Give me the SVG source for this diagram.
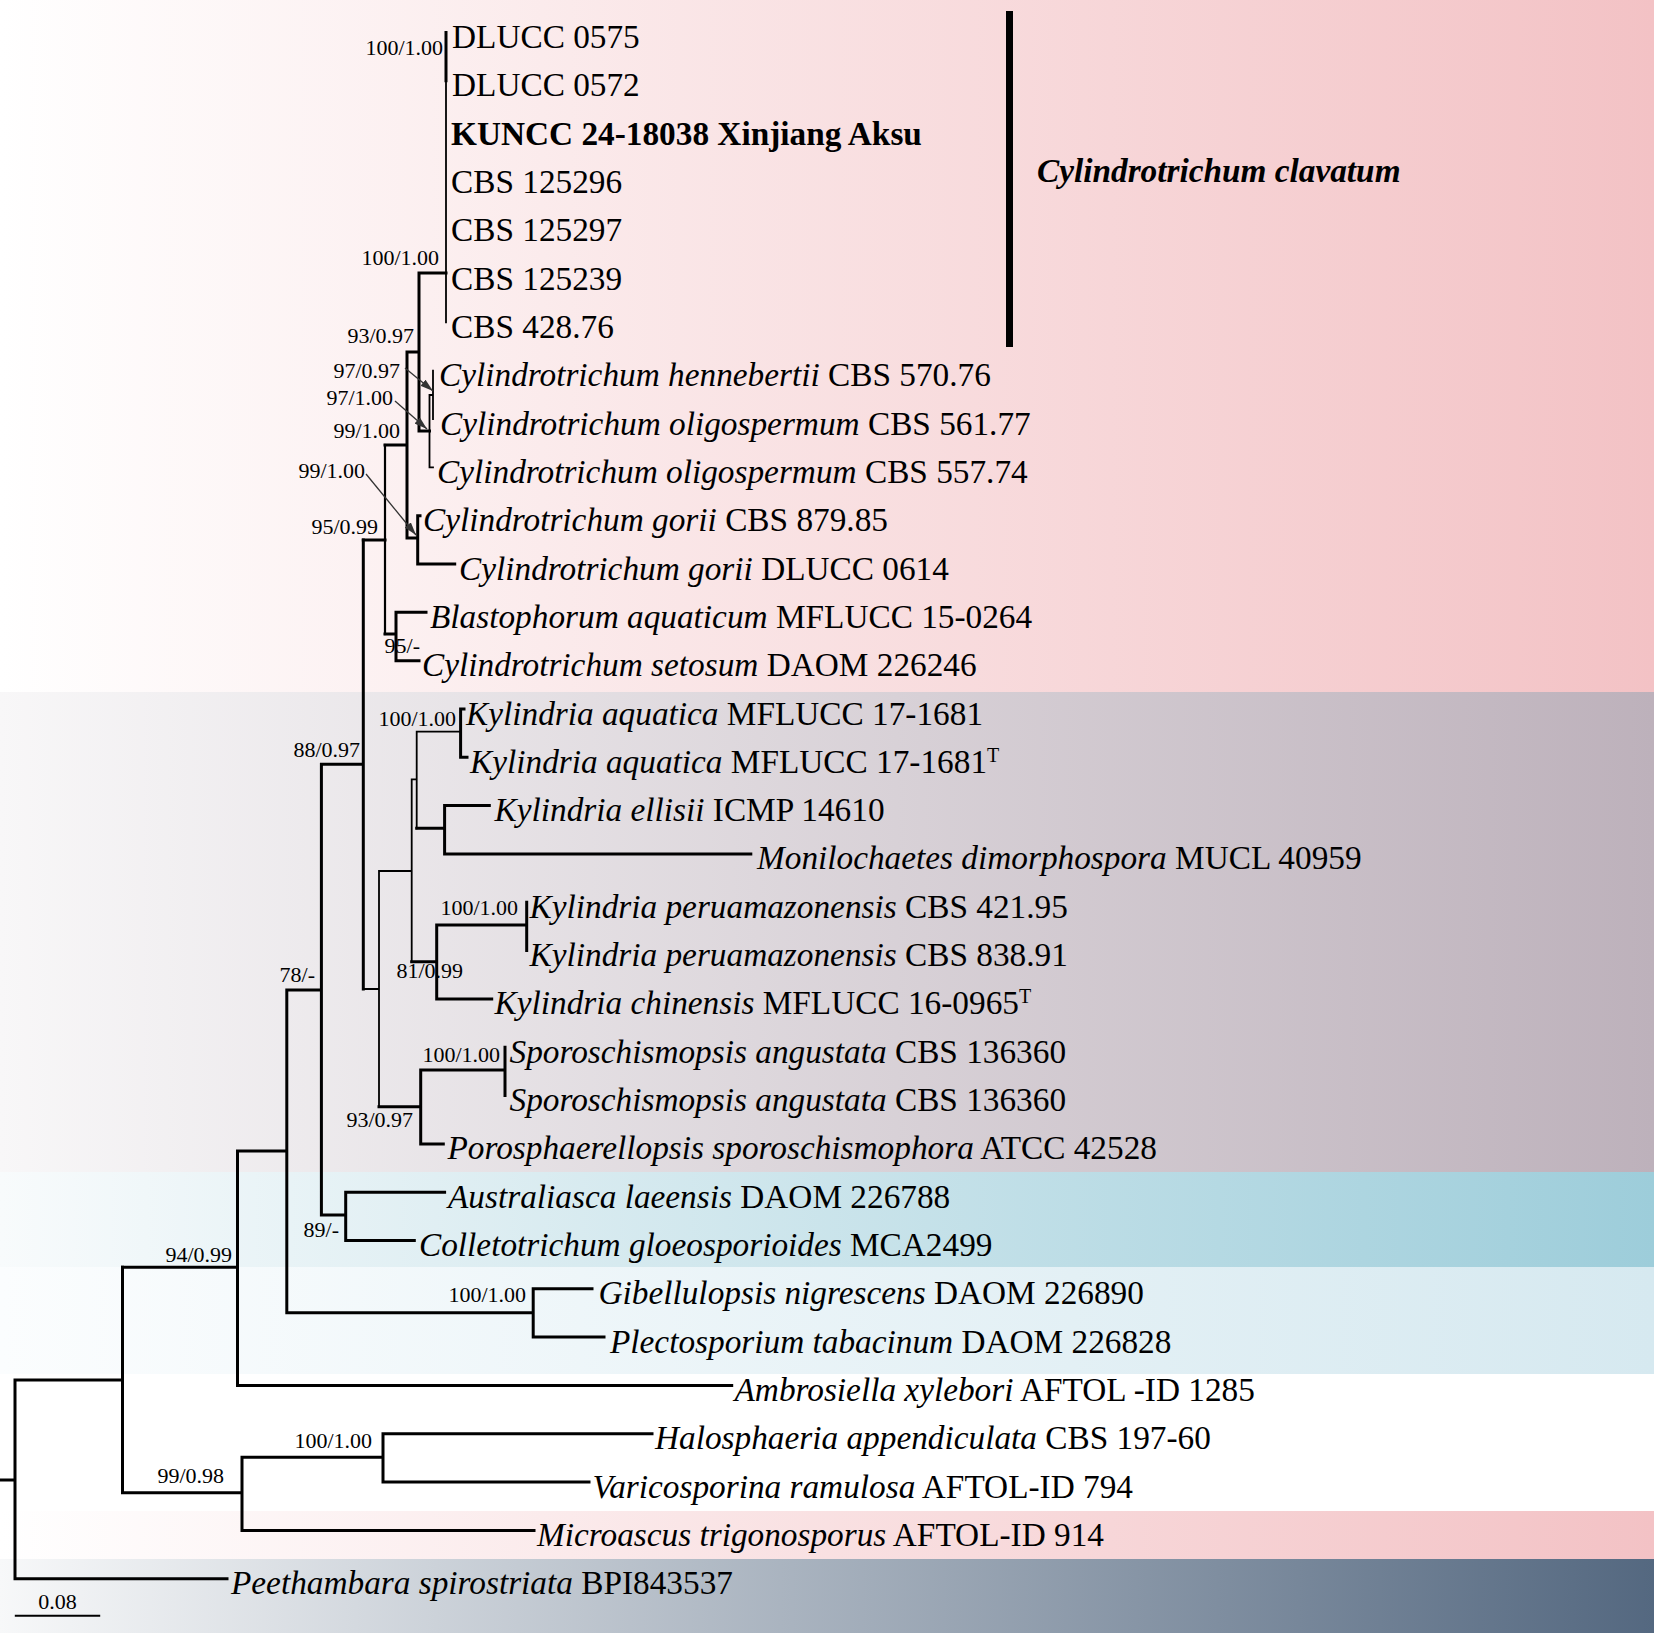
<svg xmlns="http://www.w3.org/2000/svg" width="1654" height="1633" viewBox="0 0 1654 1633">
<style>
.br{fill:none;stroke:#000;stroke-width:3;stroke-linecap:square}
.thin{fill:none;stroke:#000;stroke-width:1.8;stroke-linecap:square}
.tip{font-family:'Liberation Serif','Times New Roman',serif;font-size:33.3px;fill:#000}
.sp{font-style:italic}
.sup{font-family:'Liberation Serif','Times New Roman',serif;font-size:22px;fill:#000;text-anchor:end}
.arr{stroke:#333;stroke-width:1.3;fill:none;marker-end:url(#ah)}
</style>
<defs>
<linearGradient id="gPink" x1="0" y1="0" x2="1" y2="0"><stop offset="0" stop-color="#ffffff"/><stop offset="1" stop-color="#f3c2c5"/></linearGradient>
<linearGradient id="gMauve" x1="0" y1="0" x2="1" y2="0"><stop offset="0" stop-color="#f8f7f8"/><stop offset="1" stop-color="#bdb1bb"/></linearGradient>
<linearGradient id="gCyan" x1="0" y1="0" x2="1" y2="0"><stop offset="0" stop-color="#f8fbfc"/><stop offset="1" stop-color="#9dcdda"/></linearGradient>
<linearGradient id="gLCyan" x1="0" y1="0" x2="1" y2="0"><stop offset="0" stop-color="#fbfdfe"/><stop offset="1" stop-color="#d6e9f0"/></linearGradient>
<linearGradient id="gSlate" x1="0" y1="0" x2="1" y2="0"><stop offset="0" stop-color="#f7f8f9"/><stop offset="1" stop-color="#546880"/></linearGradient>
<marker id="ah" markerWidth="13" markerHeight="8" refX="13" refY="4" orient="auto" markerUnits="userSpaceOnUse"><path d="M0,0 L13,4 L0,8 z" fill="#333"/></marker>
</defs>
<g id="background">
<rect x="0" y="0" width="1654" height="692" fill="url(#gPink)"/>
<rect x="0" y="692" width="1654" height="480" fill="url(#gMauve)"/>
<rect x="0" y="1172" width="1654" height="95" fill="url(#gCyan)"/>
<rect x="0" y="1267" width="1654" height="107" fill="url(#gLCyan)"/>
<rect x="0" y="1374" width="1654" height="137" fill="#ffffff"/>
<rect x="0" y="1511" width="1654" height="48" fill="url(#gPink)"/>
<rect x="0" y="1559" width="1654" height="74" fill="url(#gSlate)"/>
</g>
<g id="connectors">
<path class="br" d="M0 1480H15M15 1380V1578.7M15 1380H122.5M122.5 1267.3V1492.7M15 1578.7H227M122.5 1492.7H242M242 1457.3V1530.4M242 1457.3H383M383 1433.8V1482.1M383 1433.8H652M383 1482.1H589M242 1530.4H534"/>
<path class="br" d="M122.5 1267.3H237.5M237.5 1151V1385.5M237.5 1385.5H731.7M237.5 1151H286.8M286.8 990V1312.7M286.8 1312.7H533.2M533.2 1288.8V1337.1M533.2 1288.8H592M533.2 1337.1H604M286.8 990H321.4M321.4 764.3V1215M321.4 1215H345.7M345.7 1192.2V1240.5M345.7 1192.2H444.6M345.7 1240.5H414.3M321.4 764.3H363.3M363.3 540V989"/>
<path class="thin" d="M363.3 989H379M379 871V1106.7M379 871H411.7M411.7 779.3V961.7M411.7 779.3H416.7M416.7 731.7V828.3M416.7 731.7H460.6"/>
<path class="br" d="M379 1106.7H420.7M420.7 1070V1143.9M420.7 1070H505M505 1047.2V1095.5M420.7 1143.9H443.3"/>
<path class="br" d="M460.6 709V757.3M460.6 709H464M460.6 757.3H467M416.7 828.3H444.6M444.6 805.6V853.9M444.6 805.6H489.3M444.6 853.9H750.8"/>
<path class="br" d="M411.7 961.7H436.7M436.7 925V998.9M436.7 925H526.7M526.7 902.3V950.6M436.7 998.9H491.7"/>
<path class="br" d="M363.3 540H385M385 634H396M396 612.3V660.7M396 612.3H426M396 660.7H419"/>
<path class="thin" style="stroke-width:2.2" d="M385 445V634"/>
<path class="br" d="M385 445H407M407 352V538M407 538H417.7M417.7 515.7V564M417.7 515.7H420M417.7 564H454.7M407 352H419M419 273V431M419 273H446M446 32.5V80.8M419 431H429.5"/>
<path class="thin" d="M446 32.5V322.4M429.5 395V467.4M429.5 467.4H433M429.5 395H433M433 370.7V419.1"/>
<path class="arr" d="M405 368L433 391"/>
<path class="arr" d="M395 401L427 429"/>
<path class="arr" d="M366 474L416 535"/>
</g>
<g id="support-values">
<text class="sup" x="443" y="55">100/1.00</text>
<text class="sup" x="439" y="265">100/1.00</text>
<text class="sup" x="414" y="343">93/0.97</text>
<text class="sup" x="400" y="378">97/0.97</text>
<text class="sup" x="393" y="405">97/1.00</text>
<text class="sup" x="400" y="438">99/1.00</text>
<text class="sup" x="365" y="478">99/1.00</text>
<text class="sup" x="378" y="534">95/0.99</text>
<text class="sup" x="420" y="653">95/-</text>
<text class="sup" x="456" y="726">100/1.00</text>
<text class="sup" x="360" y="757">88/0.97</text>
<text class="sup" x="518" y="915">100/1.00</text>
<text class="sup" x="463" y="978">81/0.99</text>
<text class="sup" x="315" y="982">78/-</text>
<text class="sup" x="500" y="1062">100/1.00</text>
<text class="sup" x="413" y="1127">93/0.97</text>
<text class="sup" x="339" y="1237">89/-</text>
<text class="sup" x="232" y="1262">94/0.99</text>
<text class="sup" x="526" y="1302">100/1.00</text>
<text class="sup" x="372" y="1448">100/1.00</text>
<text class="sup" x="224" y="1483">99/0.98</text>
</g>
<g id="t0"><text class="tip" x="452" y="48">DLUCC 0575</text></g>
<g id="t1"><text class="tip" x="452" y="96.3">DLUCC 0572</text></g>
<g id="t2"><text class="tip" x="451" y="144.6" font-weight="bold">KUNCC 24-18038 Xinjiang Aksu</text></g>
<g id="t3"><text class="tip" x="451" y="193">CBS 125296</text></g>
<g id="t4"><text class="tip" x="451" y="241.3">CBS 125297</text></g>
<g id="t5"><text class="tip" x="451" y="289.6">CBS 125239</text></g>
<g id="t6"><text class="tip" x="451" y="337.9">CBS 428.76</text></g>
<g id="t7"><text class="tip" x="439" y="386.2"><tspan class="sp">Cylindrotrichum hennebertii</tspan> CBS 570.76</text></g>
<g id="t8"><text class="tip" x="440" y="434.6"><tspan class="sp">Cylindrotrichum oligospermum</tspan> CBS 561.77</text></g>
<g id="t9"><text class="tip" x="437" y="482.9"><tspan class="sp">Cylindrotrichum oligospermum</tspan> CBS 557.74</text></g>
<g id="t10"><text class="tip" x="423" y="531.2"><tspan class="sp">Cylindrotrichum gorii</tspan> CBS 879.85</text></g>
<g id="t11"><text class="tip" x="459" y="579.5"><tspan class="sp">Cylindrotrichum gorii</tspan> DLUCC 0614</text></g>
<g id="t12"><text class="tip" x="430" y="627.8"><tspan class="sp">Blastophorum aquaticum</tspan> MFLUCC 15-0264</text></g>
<g id="t13"><text class="tip" x="422" y="676.2"><tspan class="sp">Cylindrotrichum setosum</tspan> DAOM 226246</text></g>
<g id="t14"><text class="tip" x="466" y="724.5"><tspan class="sp">Kylindria aquatica</tspan> MFLUCC 17-1681</text></g>
<g id="t15"><text class="tip" x="470" y="772.8"><tspan class="sp">Kylindria aquatica</tspan> MFLUCC 17-1681<tspan font-size="20" dy="-11">T</tspan></text></g>
<g id="t16"><text class="tip" x="494.5" y="821.1"><tspan class="sp">Kylindria ellisii</tspan> ICMP 14610</text></g>
<g id="t17"><text class="tip" x="757" y="869.4"><tspan class="sp">Monilochaetes dimorphospora</tspan> MUCL 40959</text></g>
<g id="t18"><text class="tip" x="529.5" y="917.8"><tspan class="sp">Kylindria peruamazonensis</tspan> CBS 421.95</text></g>
<g id="t19"><text class="tip" x="529.5" y="966.1"><tspan class="sp">Kylindria peruamazonensis</tspan> CBS 838.91</text></g>
<g id="t20"><text class="tip" x="494.5" y="1014.4"><tspan class="sp">Kylindria chinensis</tspan> MFLUCC 16-0965<tspan font-size="20" dy="-11">T</tspan></text></g>
<g id="t21"><text class="tip" x="509.5" y="1062.7"><tspan class="sp">Sporoschismopsis angustata</tspan> CBS 136360</text></g>
<g id="t22"><text class="tip" x="509.5" y="1111"><tspan class="sp">Sporoschismopsis angustata</tspan> CBS 136360</text></g>
<g id="t23"><text class="tip" x="447.5" y="1159.4"><tspan class="sp">Porosphaerellopsis sporoschismophora</tspan> ATCC 42528</text></g>
<g id="t24"><text class="tip" x="448" y="1207.7"><tspan class="sp">Australiasca laeensis</tspan> DAOM 226788</text></g>
<g id="t25"><text class="tip" x="419" y="1256"><tspan class="sp">Colletotrichum gloeosporioides</tspan> MCA2499</text></g>
<g id="t26"><text class="tip" x="598.5" y="1304.3"><tspan class="sp">Gibellulopsis nigrescens</tspan> DAOM 226890</text></g>
<g id="t27"><text class="tip" x="610" y="1352.6"><tspan class="sp">Plectosporium tabacinum</tspan> DAOM 226828</text></g>
<g id="t28"><text class="tip" x="734.5" y="1401"><tspan class="sp">Ambrosiella xylebori</tspan> AFTOL -ID 1285</text></g>
<g id="t29"><text class="tip" x="655" y="1449.3"><tspan class="sp">Halosphaeria appendiculata</tspan> CBS 197-60</text></g>
<g id="t30"><text class="tip" x="592.5" y="1497.6"><tspan class="sp">Varicosporina ramulosa</tspan> AFTOL-ID 794</text></g>
<g id="t31"><text class="tip" x="537" y="1545.9"><tspan class="sp">Microascus trigonosporus</tspan> AFTOL-ID 914</text></g>
<g id="t32"><text class="tip" x="231" y="1594.2"><tspan class="sp">Peethambara spirostriata</tspan> BPI843537</text></g>
<g id="clade-clavatum">
<rect x="1006" y="11" width="7" height="336" fill="#000"/>
<text class="tip" x="1037" y="182" font-weight="bold" font-style="italic">Cylindrotrichum clavatum</text>
</g>
<g id="scale-bar">
<path d="M14.8 1615.7H100.2" stroke="#000" stroke-width="2" fill="none"/>
<text x="57.5" y="1609" font-family="'Liberation Serif','Times New Roman',serif" font-size="22" text-anchor="middle">0.08</text>
</g>
</svg>
